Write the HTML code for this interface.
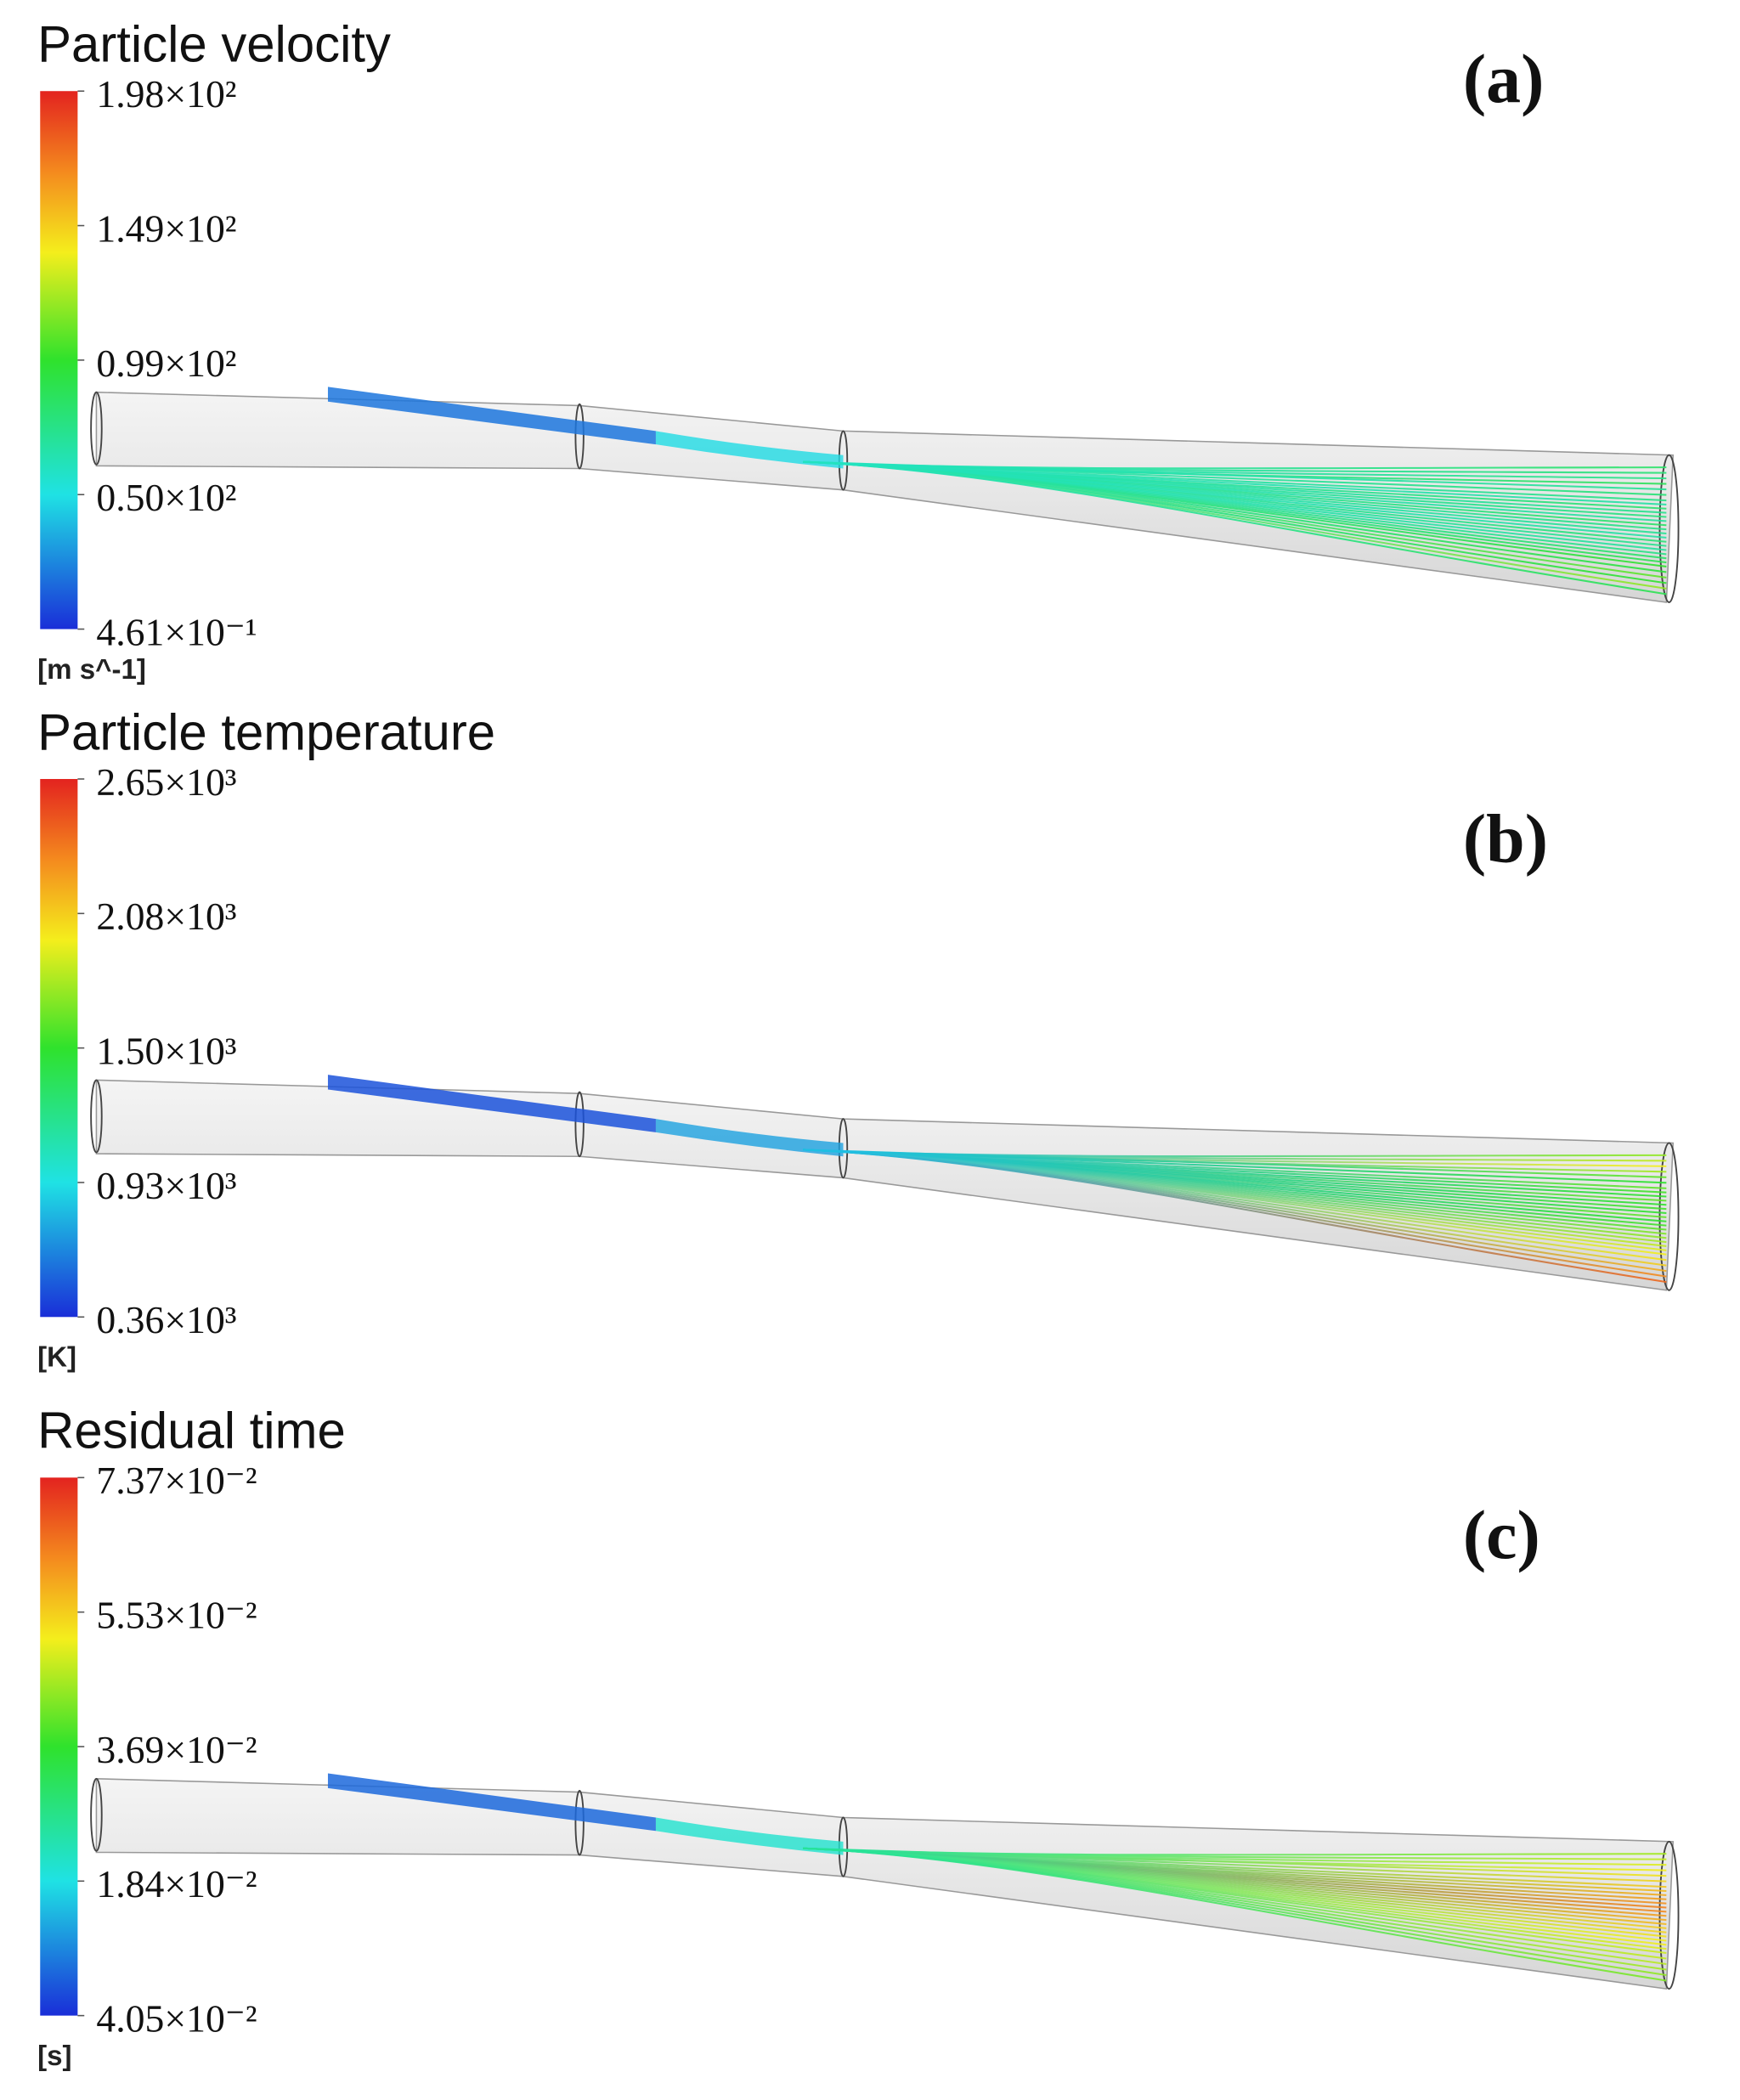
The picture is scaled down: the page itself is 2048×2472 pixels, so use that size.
<!DOCTYPE html>
<html><head><meta charset="utf-8"><style>
html,body{margin:0;padding:0;background:#fff}
svg{display:block}
</style></head><body>
<svg id="fig" width="2048" height="2472" viewBox="0 0 1300 1569" xmlns="http://www.w3.org/2000/svg">
<defs>
<linearGradient id="cbar" x1="0" y1="0" x2="0" y2="1">
<stop offset="0" stop-color="#e3231f"/><stop offset="0.15" stop-color="#f48a1e"/><stop offset="0.3" stop-color="#f4ee1c"/><stop offset="0.5" stop-color="#2fe22c"/><stop offset="0.75" stop-color="#1fe2e4"/><stop offset="1" stop-color="#1a2ed8"/>
</linearGradient>
<linearGradient id="pipe" x1="0" y1="0" x2="0" y2="1">
<stop offset="0" stop-color="#f4f4f4"/><stop offset="0.5" stop-color="#e6e6e6"/><stop offset="1" stop-color="#d6d6d6"/>
</linearGradient>
</defs>
<g id="panels"></g>
</svg>
<script>
const panelTitles = ["Particle velocity", "Particle temperature", "Residual time"];
const panelLetters = ["(a)", "(b)", "(c)"];
const letterY = [76, 130, 128];
const panelUnits = ["[m s^-1]", "[K]", "[s]"];
const ticksA = ["1.98×10²", "1.49×10²", "0.99×10²", "0.50×10²", "4.61×10⁻¹"];
const ticksB = ["2.65×10³", "2.08×10³", "1.50×10³", "0.93×10³", "0.36×10³"];
const ticksC = ["7.37×10⁻²", "5.53×10⁻²", "3.69×10⁻²", "1.84×10⁻²", "4.05×10⁻²"];
const exitFrac = [0.04,0.08,0.12,0.16,0.2,0.24,0.28,0.31,0.34,0.37,0.4,0.43,0.46,0.49,0.52,0.55,0.58,0.61,0.64,0.67,0.7,0.73,0.76,0.8,0.84,0.88,0.92,0.96];
const endValA = [0.42,0.4,0.38,0.44,0.36,0.4,0.38,0.34,0.41,0.37,0.39,0.35,0.42,0.38,0.36,0.34,0.4,0.37,0.35,0.38,0.42,0.45,0.5,0.48,0.55,0.5,0.6,0.45];
const endValB = [0.6,0.65,0.7,0.62,0.55,0.5,0.55,0.52,0.5,0.55,0.5,0.52,0.5,0.55,0.5,0.52,0.55,0.58,0.6,0.62,0.65,0.68,0.7,0.72,0.75,0.8,0.85,0.9];
const endValC = [0.62,0.65,0.68,0.7,0.72,0.74,0.76,0.78,0.8,0.82,0.84,0.86,0.85,0.82,0.8,0.78,0.75,0.74,0.72,0.7,0.7,0.68,0.66,0.65,0.64,0.62,0.6,0.58];
const startVal = [0.3, 0.2, 0.35];
const injVal = [0.1, 0.05, 0.08];
const ticksAll = [ticksA, ticksB, ticksC];
const endAll = [endValA, endValB, endValC];
const offsets = [0, 514, 1036];

const stops = [[0,[26,46,216]],[0.25,[31,226,228]],[0.5,[47,226,44]],[0.7,[244,238,28]],[0.85,[244,138,30]],[1,[227,35,31]]];
function cmap(v){
  for(let i=1;i<stops.length;i++){
    if(v<=stops[i][0]){const a=stops[i-1],b=stops[i];const t=(v-a[0])/(b[0]-a[0]);
      const c=a[1].map((x,k)=>Math.round(x+(b[1][k]-x)*t));return `rgb(${c[0]},${c[1]},${c[2]})`;}
  }
  return 'rgb(227,35,31)';
}
const NS="http://www.w3.org/2000/svg";
function mk(tag,attrs,parent){const e=document.createElementNS(NS,tag);for(const k in attrs)e.setAttribute(k,attrs[k]);parent.appendChild(e);return e;}
const root=document.getElementById('panels');
const defs=document.querySelector('defs');
for(let p=0;p<3;p++){
  const g=mk('g',{transform:`translate(0,${offsets[p]})`},root);
  
  
  const t=mk('text',{x:28,y:46,'font-family':'Liberation Sans, sans-serif','font-size':38,fill:'#111'},g);
  t.textContent=panelTitles[p];
  
  
  const l=mk('text',{x:1093,y:letterY[p],'font-family':'Liberation Serif, serif','font-size':52,'font-weight':'bold',fill:'#111'},g);
  l.textContent=panelLetters[p];
  
  
  const cb=mk('rect',{x:30,y:68,width:28,height:402,fill:'url(#cbar)'},g);
  
  
  const ticks=ticksAll[p];
  ticks.forEach((s,i)=>{
    const y=68+i*100.5;
    mk('line',{x1:58,y1:y,x2:63,y2:y,stroke:'#555','stroke-width':1},g);
    const tx=mk('text',{x:72,y:y+12,'font-family':'Liberation Serif, serif','font-size':29,fill:'#111'},g);
    tx.textContent=s;
    
    
  });
  const u=mk('text',{x:28,y:507,'font-family':'Liberation Sans, sans-serif','font-size':21,'font-weight':'bold',fill:'#222'},g);
  u.textContent=panelUnits[p];
  
  
  const pipe=mk('path',{d:'M72,293 L433,303 L630,322 L1250,340 L1245,450 L630,366 L433,350 L72,348 Z',fill:'url(#pipe)',stroke:'#999','stroke-width':1},g);
  
  
  [[72,320,4,27],[433,326,3,24],[630,344,3,22],[1247,395,7,55]].forEach(e=>{
    mk('ellipse',{cx:e[0],cy:e[1],rx:e[2],ry:e[3],fill:'none',stroke:'#444','stroke-width':1.2},g);
  });
  const inj=mk('path',{d:'M245,289 L490,322 L490,332 L245,300 Z',fill:cmap(injVal[p]),opacity:0.85},g);
  
  
  const jet=mk('path',{d:'M490,322 Q560,334 630,340 L630,350 Q560,343 490,332 Z',fill:cmap(startVal[p]*0.8),opacity:0.8},g);
  
  
  const ev=endAll[p];
  exitFrac.forEach((f,i)=>{
    const top=345,bot=448;
    const ye=top+(bot-top)*f;
    const gid=`sg${p}_${i}`;
    const lg=mk('linearGradient',{id:gid,gradientUnits:'userSpaceOnUse',x1:630,y1:0,x2:1245,y2:0},defs);
    mk('stop',{offset:0,'stop-color':cmap(startVal[p])},lg);
    mk('stop',{offset:1,'stop-color':cmap(ev[i])},lg);
    const sl=mk('path',{d:`M600,345 C760,352 950,${(ye+350)/2} 1245,${ye}`,fill:'none',stroke:`url(#${gid})`,'stroke-width':1.3,opacity:0.9},g);
    
    
  });
}
</script>
</body></html>
